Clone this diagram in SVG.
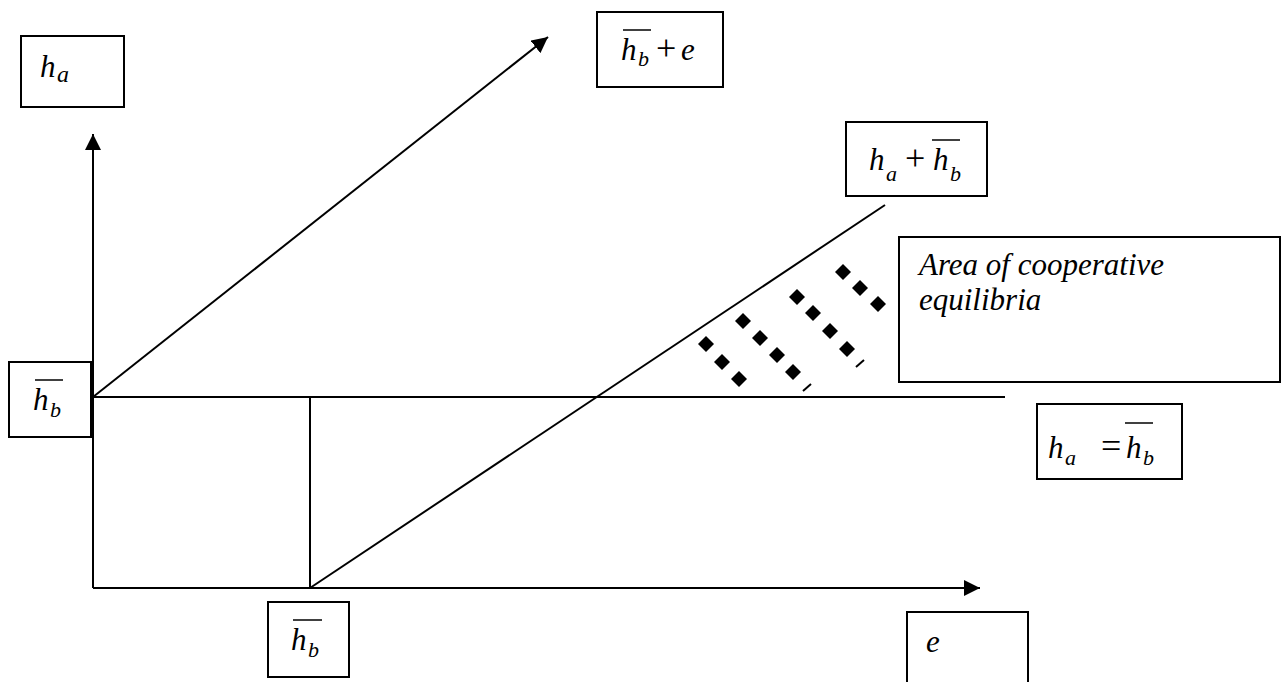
<svg xmlns="http://www.w3.org/2000/svg" xmlns:xlink="http://www.w3.org/1999/xlink" width="1285" height="682" viewBox="0 0 1285 682">
<style>
.box{fill:#fff;stroke:#000;stroke-width:2}
.ln{stroke:#000;stroke-width:2;fill:none}
text{font-family:'Liberation Serif','Times New Roman',serif;font-style:italic;font-size:31px;fill:#000}
.s{font-size:22px}
.n{font-style:normal;font-size:36px}
.ov{stroke:#000;stroke-width:1.5}
</style>
<defs>
<marker id="arr" viewBox="0 0 10 10" refX="10" refY="5" markerWidth="16" markerHeight="16" markerUnits="userSpaceOnUse" orient="auto">
<path d="M0,0 L10,5 L0,10 z" fill="#000"/>
</marker>
<path id="dm" d="M0,-8 L8,0 L0,8 L-8,0 z" fill="#000"/>
</defs>
<rect width="1285" height="682" fill="#fff"/>
<g id="connectors">
<line class="ln" x1="93" y1="588" x2="93" y2="134" marker-end="url(#arr)"/>
<line class="ln" x1="93" y1="588" x2="980" y2="588" marker-end="url(#arr)"/>
<line class="ln" x1="93" y1="397" x2="548" y2="37" marker-end="url(#arr)"/>
<line class="ln" x1="93" y1="397" x2="1005" y2="397"/>
<line class="ln" x1="310" y1="397" x2="310" y2="588"/>
<line class="ln" x1="310" y1="588" x2="885" y2="205"/>
</g>
<g id="dots">
<use xlink:href="#dm" x="706" y="344"/><use xlink:href="#dm" x="722" y="362"/><use xlink:href="#dm" x="739" y="379"/>
<use xlink:href="#dm" x="743" y="321"/><use xlink:href="#dm" x="760" y="338"/><use xlink:href="#dm" x="777" y="355"/><use xlink:href="#dm" x="793" y="372"/>
<line class="ln" x1="803" y1="391" x2="811" y2="384" stroke-width="3"/>
<use xlink:href="#dm" x="797" y="297"/><use xlink:href="#dm" x="813" y="313"/><use xlink:href="#dm" x="830" y="331"/><use xlink:href="#dm" x="847" y="349"/>
<line class="ln" x1="856" y1="367" x2="864" y2="360" stroke-width="3"/>
<use xlink:href="#dm" x="843" y="272"/><use xlink:href="#dm" x="860" y="288"/><use xlink:href="#dm" x="878" y="304"/>
</g>
<g id="node-ha">
<rect class="box" x="21" y="36" width="103" height="71"/>
<text x="40" y="77">h<tspan class="s" x="57" dy="5" style="font-size:24px">a</tspan></text>
</g>
<g id="node-hb-e">
<rect class="box" x="597" y="12" width="126" height="75"/>
<line class="ov" x1="623" y1="30" x2="651" y2="30"/>
<text x="621" y="60">h<tspan class="s" x="638" dy="6">b</tspan><tspan class="n" x="656" dy="-6">+</tspan><tspan x="681">e</tspan></text>
</g>
<g id="node-ha-plus-hb">
<rect class="box" x="846" y="122" width="141" height="74"/>
<line class="ov" x1="932" y1="140" x2="960" y2="140"/>
<text x="869" y="170">h<tspan class="s" x="886" dy="11">a</tspan><tspan class="n" x="905" dy="-11">+</tspan><tspan x="933">h</tspan><tspan class="s" x="950" dy="11">b</tspan></text>
</g>
<g id="node-area">
<rect class="box" x="899" y="237" width="381" height="145"/>
<text x="919" y="275">Area of cooperative</text>
<text x="919" y="310">equilibria</text>
</g>
<g id="node-hb-left">
<rect class="box" x="9" y="362" width="82" height="75"/>
<line class="ov" x1="35" y1="380" x2="63" y2="380"/>
<text x="33" y="410">h<tspan class="s" x="50" dy="7">b</tspan></text>
</g>
<g id="node-ha-eq-hb">
<rect class="box" x="1037" y="404" width="145" height="75"/>
<line class="ov" x1="1125" y1="423" x2="1153" y2="423"/>
<text x="1048" y="458">h<tspan class="s" x="1065" dy="7">a</tspan><tspan class="n" x="1101" dy="-7">=</tspan><tspan x="1126">h</tspan><tspan class="s" x="1143" dy="7">b</tspan></text>
</g>
<g id="node-hb-bottom">
<rect class="box" x="268" y="602" width="81" height="75"/>
<line class="ov" x1="293" y1="620" x2="322" y2="620"/>
<text x="291" y="650">h<tspan class="s" x="308" dy="7">b</tspan></text>
</g>
<g id="node-e">
<rect class="box" x="907" y="612" width="121" height="80"/>
<text x="926" y="652">e</text>
</g>
</svg>
